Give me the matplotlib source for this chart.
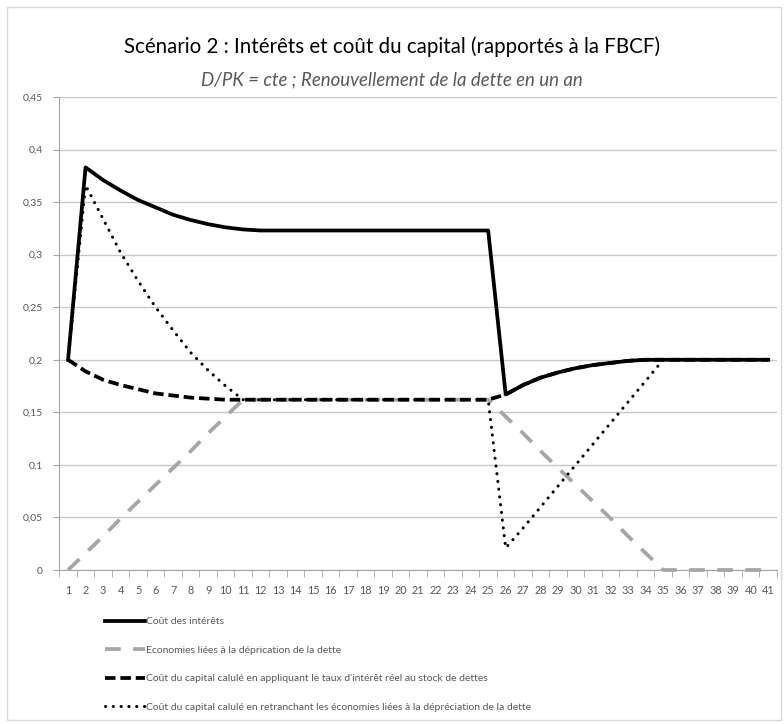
import matplotlib
matplotlib.use("Agg")
import matplotlib.pyplot as plt
from matplotlib.patches import Rectangle

plt.rcParams['font.family'] = ['Lato', 'DejaVu Sans']

years = list(range(1, 42))
interets = [0.200, 0.383, 0.371, 0.361, 0.352, 0.345, 0.338, 0.333, 0.329, 0.326, 0.324,
            0.323, 0.323, 0.323, 0.323, 0.323, 0.323, 0.323, 0.323, 0.323, 0.323, 0.323, 0.323, 0.323, 0.323,
            0.167, 0.176, 0.183, 0.188, 0.192, 0.195, 0.197, 0.199, 0.200,
            0.200, 0.200, 0.200, 0.200, 0.200, 0.200, 0.200]
economies = [0.000, 0.016, 0.032, 0.049, 0.065, 0.081, 0.097, 0.113, 0.130, 0.146, 0.162,
             0.162, 0.162, 0.162, 0.162, 0.162, 0.162, 0.162, 0.162, 0.162, 0.162, 0.162, 0.162, 0.162, 0.162,
             0.146, 0.130, 0.113, 0.097, 0.081, 0.065, 0.049, 0.032, 0.016, 0.000,
             0.000, 0.000, 0.000, 0.000, 0.000, 0.000]
cout_taux = [0.200, 0.189, 0.181, 0.176, 0.172, 0.168, 0.166, 0.164, 0.163, 0.162, 0.162,
             0.162, 0.162, 0.162, 0.162, 0.162, 0.162, 0.162, 0.162, 0.162, 0.162, 0.162, 0.162, 0.162, 0.162,
             0.167, 0.176, 0.183, 0.188, 0.192, 0.195, 0.197, 0.199, 0.200,
             0.200, 0.200, 0.200, 0.200, 0.200, 0.200, 0.200]
cout_net = [0.200, 0.366, 0.334, 0.302, 0.275, 0.250, 0.228, 0.207, 0.190, 0.175, 0.162,
            0.162, 0.162, 0.162, 0.162, 0.162, 0.162, 0.162, 0.162, 0.162, 0.162, 0.162, 0.162, 0.162, 0.162,
            0.021, 0.040, 0.060, 0.080, 0.100, 0.120, 0.140, 0.160, 0.180, 0.200,
            0.200, 0.200, 0.200, 0.200, 0.200, 0.200]
yticks = [0, 0.05, 0.1, 0.15, 0.2, 0.25, 0.3, 0.35, 0.4, 0.45]
ytick_labels = ["0", "0,05", "0,1", "0,15", "0,2", "0,25", "0,3", "0,35", "0,4", "0,45"]
labels = ["Coût des intérêts",
          "Economies liées à la déprication de la dette",
          "Coût du capital calulé en appliquant le taux d'intérêt réel au stock de dettes",
          "Coût du capital calulé en retranchant les économies liées à la dépréciation de la dette"]

grey_txt = "#595959"
fig = plt.figure(figsize=(7.84, 7.24), dpi=100)
fig.patches.append(Rectangle((7 / 784, 4 / 724), 774 / 784, 713 / 724, transform=fig.transFigure,
                             fill=False, edgecolor="#d9d9d9", lw=1))
ax = fig.add_axes([59.3 / 784, 1 - 570 / 724, (777 - 59.3) / 784, (570 - 97) / 724])

l1, = ax.plot(years, interets, color="black", lw=2.7, zorder=3)
l2, = ax.plot(years, economies, color="#a6a6a6", lw=2.7, dashes=(4.2, 3.3), clip_on=False, zorder=2)
l3, = ax.plot(years, cout_taux, color="black", lw=2.7, dashes=(2.8, 1.3), zorder=4)
l4, = ax.plot(years, cout_net, color="black", lw=2.2, dashes=(0.05, 2.5), dash_capstyle="round", zorder=5)

ax.set_xlim(0.5, 41.5)
ax.set_ylim(0, 0.45)
ax.set_yticks(yticks)
ax.set_yticklabels(ytick_labels)
ax.set_xticks(years)
ax.set_xticklabels([str(y) for y in years])
ax.set_xticks([y + 0.5 for y in range(0, 42)], minor=True)
ax.tick_params(axis="x", which="major", length=0, pad=11, labelsize=7.8, labelcolor=grey_txt)
ax.tick_params(axis="x", which="minor", length=5, color="#a6a6a6", direction="out")
ax.tick_params(axis="y", length=4, color="#a6a6a6", labelsize=7.5, labelcolor=grey_txt, pad=8)
ax.grid(axis="y", color="#c8c8c8", lw=1)
ax.set_axisbelow(True)
for s in ["top", "right"]:
    ax.spines[s].set_visible(False)
for s in ["left", "bottom"]:
    ax.spines[s].set_color("#a6a6a6")
    ax.spines[s].set_zorder(1)

fig.text(0.5, 1 - 47 / 724, "Scénario 2 : Intérêts et coût du capital (rapportés à la FBCF)",
         ha="center", va="center", fontsize=14.8, color="black")
fig.text(0.5, 1 - 80 / 724, "D/PK = cte ; Renouvellement de la dette en un an",
         ha="center", va="center", fontsize=13.4, style="italic", color=grey_txt)

leg = fig.legend([l1, l2, l3, l4], labels, loc="upper left", bbox_to_anchor=(105 / 784, 1 - 617 / 724),
                 frameon=False, fontsize=7.5, handlelength=3.8, handletextpad=0.1,
                 labelspacing=1.85, borderaxespad=0, borderpad=0)
for t in leg.get_texts():
    t.set_color(grey_txt)

fig.savefig("out.png", dpi=100)
